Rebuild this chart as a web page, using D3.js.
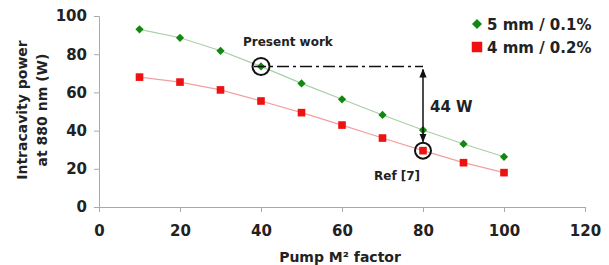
<!DOCTYPE html>
<html>
<head>
<meta charset="utf-8">
<script src="https://d3js.org/d3.v7.min.js"></script>
<style>
  body { margin: 0; background: #fff; }
  text { font-family: "DejaVu Sans", Verdana, sans-serif; font-weight: bold; fill: #222; }
</style>
</head>
<body>
<div id="chart"></div>
<script>
var m2 = [10, 20, 30, 40, 50, 60, 70, 80, 90, 100];
var green5mm = [93, 88.6, 81.8, 73.6, 64.7, 56.4, 48.2, 40.3, 33, 26.3];
var red4mm = [68, 65.4, 61.3, 55.5, 49.4, 42.9, 36.1, 29.5, 23.2, 18];
var xTicks = [0, 20, 40, 60, 80, 100, 120];
var yTicks = [0, 20, 40, 60, 80, 100];
var seriesNames = ["5 mm / 0.1%", "4 mm / 0.2%"];

var width = 609, height = 265;
var svg = d3.select("#chart").append("svg").attr("width", width).attr("height", height);

var x = d3.scaleLinear().domain([0, 120]).range([99, 585]);
var y = d3.scaleLinear().domain([0, 100]).range([207, 16]);

// axes
var gx = svg.append("g").attr("transform", "translate(0," + y(0) + ")")
  .call(d3.axisBottom(x).tickValues(xTicks).tickSize(5).tickPadding(13));
var gy = svg.append("g").attr("transform", "translate(" + x(0) + ",0)")
  .call(d3.axisLeft(y).tickValues(yTicks).tickSize(5).tickPadding(7));
[gx, gy].forEach(function(g) {
  g.select(".domain").attr("stroke", "#aaa");
  g.selectAll(".tick line").attr("stroke", "#aaa");
  g.selectAll("text").style("font-size", "15px").attr("fill", "#222");
});

// axis titles
svg.append("text").attr("x", 340).attr("y", 262).attr("text-anchor", "middle")
  .style("font-size", "14px").text("Pump M² factor");
svg.append("text").attr("transform", "translate(27,110) rotate(-90)").attr("text-anchor", "middle")
  .style("font-size", "14px").text("Intracavity power");
svg.append("text").attr("transform", "translate(47,110) rotate(-90)").attr("text-anchor", "middle")
  .style("font-size", "14px").text("at 880 nm (W)");

var line = d3.line().x(function(d) { return x(d[0]); }).y(function(d) { return y(d[1]); });
var gData = d3.zip(m2, green5mm);
var rData = d3.zip(m2, red4mm);

svg.append("path").datum(rData).attr("d", line).attr("fill", "none").attr("stroke", "#f0a0a0").attr("stroke-width", 1.2);
svg.append("path").datum(gData).attr("d", line).attr("fill", "none").attr("stroke", "#a8d0a8").attr("stroke-width", 1.2);

var sqPath = d3.symbol().type(d3.symbolSquare).size(58)();
var dmPath = d3.symbol().type(d3.symbolSquare).size(34)();
svg.selectAll(".sq").data(rData).enter().append("path")
  .attr("d", sqPath)
  .attr("transform", function(d) { return "translate(" + x(d[0]) + "," + y(d[1]) + ")"; })
  .attr("fill", "#ee1111");
svg.selectAll(".dm").data(gData).enter().append("path")
  .attr("d", dmPath)
  .attr("transform", function(d) { return "translate(" + x(d[0]) + "," + y(d[1]) + ") rotate(45)"; })
  .attr("fill", "#118811");

// annotations
var pw = gData[3], rf = rData[7];
svg.append("circle").attr("cx", x(pw[0])).attr("cy", y(pw[1])).attr("r", 8.5)
  .attr("fill", "none").attr("stroke", "#111").attr("stroke-width", 2);
svg.append("circle").attr("cx", x(rf[0])).attr("cy", y(rf[1])).attr("r", 8)
  .attr("fill", "none").attr("stroke", "#111").attr("stroke-width", 2);
svg.append("line").attr("x1", x(pw[0]) - 7).attr("x2", x(80)).attr("y1", y(pw[1])).attr("y2", y(pw[1]))
  .attr("stroke", "#111").attr("stroke-width", 1.5).attr("stroke-dasharray", "12,4,3,4");

var defs = svg.append("defs");
defs.append("marker").attr("id", "ah").attr("viewBox", "0 0 10 10").attr("refX", 9).attr("refY", 5)
  .attr("markerWidth", 6).attr("markerHeight", 6).attr("orient", "auto-start-reverse")
  .append("path").attr("d", "M0,1 L10,5 L0,9 Z").attr("fill", "#111");
svg.append("line").attr("x1", x(80)).attr("x2", x(80)).attr("y1", y(pw[1]) + 3).attr("y2", y(rf[1]) - 9)
  .attr("stroke", "#111").attr("stroke-width", 1.5)
  .attr("marker-start", "url(#ah)").attr("marker-end", "url(#ah)");

svg.append("text").attr("x", 243).attr("y", 46).style("font-size", "12px").text("Present work");
svg.append("text").attr("x", 374).attr("y", 180).style("font-size", "12px").text("Ref [7]");
svg.append("text").attr("x", 430).attr("y", 112).style("font-size", "15px").text("44 W");

// legend
var leg = svg.append("g");
var legSyms = [d3.symbol().type(d3.symbolSquare).size(50)(), d3.symbol().type(d3.symbolSquare).size(110)()];
var legRot = [" rotate(45)", ""];
var legCols = ["#118811", "#ee1111"];
seriesNames.forEach(function(n, i) {
  var yy = 24 + i * 23;
  leg.append("path").attr("d", legSyms[i]).attr("transform", "translate(477," + yy + ")" + legRot[i]).attr("fill", legCols[i]);
  leg.append("text").attr("x", 487).attr("y", yy + 6).style("font-size", "15px").text(n);
});
</script>
</body>
</html>
